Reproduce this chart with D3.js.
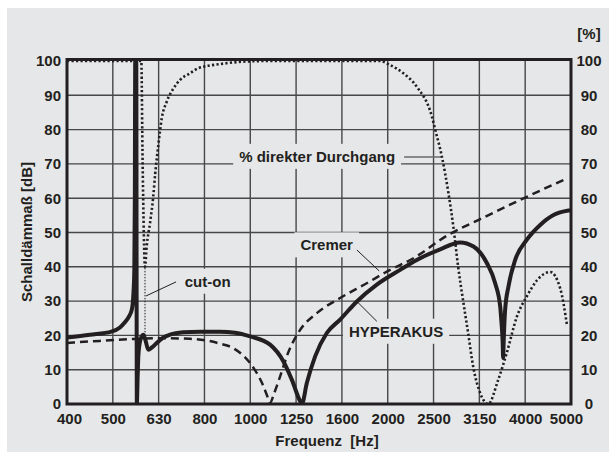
<!DOCTYPE html>
<html><head><meta charset="utf-8">
<script src="https://cdn.jsdelivr.net/npm/d3@7"></script>
<style>
html,body{margin:0;padding:0;background:#fff;}
svg{display:block;}
text{font-family:"Liberation Sans",Arial,Helvetica,sans-serif;font-weight:bold;fill:#231f20;font-size:15px;}
</style></head><body>
<svg id="c" width="609" height="452"></svg>
<script>
// ---- data ----
const xTickLabels = ["400","500","630","800","1000","1250","1600","2000","2500","3150","4000","5000"];
const yTicks = [0,10,20,30,40,50,60,70,80,90,100];

// HYPERAKUS (solid), Hz / dB
const hyperFreq = [400,449,500,522,535,546,554,558,561,562.5,563.6,566.5,568.2,570.5,572.5,576,581.8,587,593.6,602,613,628,648,671,717,781,863,931,1004,1110,1187,1238,1291,1302,1335,1392,1476,1578,1717,1898,2134,2320,2609,2885,3085,3299,3440,3528,3545,3572,3581,3590,3617,3678,3804,4034,4313,4612,4973,5036];
const hyperDB   = [19.4,20.2,21.1,22.3,23.8,25.5,27.5,31.3,39,60,100,100,0,8,14,17.5,19.6,20.2,18.5,15.8,16.5,17.8,19.3,20.2,20.9,21.1,21.1,20.8,19.7,17.3,12.4,7.1,0.8,0,6.1,13.9,20.7,24.6,29.9,34.8,39.1,42,45.1,47.1,45.9,41.1,35.2,28.4,25,18,13.4,18,27.5,34.3,42,47.9,52.2,55.1,56.4,56.5];

// Cremer (dashed), Hz / dB
const cremerFreq = [400,472,549,639,742,800,863,922,1004,1066,1093,1110,1132,1167,1215,1291,1404,1578,1804,1996,2281,2716,3190,3901,4940];
const cremerDB   = [17.8,18.4,18.9,19.2,19.0,18.6,17.6,16.3,11.9,6.1,2.5,0.3,3,8,14.9,21.6,26.5,30.9,35.2,38.6,42.5,49.3,53.9,59.5,65.8];

// % direkter Durchgang (dotted), Hz / %
const directFreq = [400,581,585,592,597,607,617,623,633,644,660,683,706,742,774,863,969,1100,1930,2029,2170,2320,2503,2545,2632,2720,2789,2856,2929,3003,3080,3190,3321,3492,3648,3837,4034,4241,4535,4768,4933];
const directPct  = [100,100,70,40,46,52.7,60.5,67,75.5,83.3,88.1,92,94.5,96.4,97.9,99.1,99.8,100,100,98.8,96.4,92.5,83.8,80,72.1,61.5,51.5,40,30,20.7,10.9,3.2,0,7,15,25.5,31.4,36,38.5,33.8,23.2];

// cut-on marker
const cutOnFreq = 592;
const cutOnRange = [20, 40];

// annotations: label, anchor (Hz, value), leader line endpoints
const annLabels = ["% direkter Durchgang","cut-on","Cremer","HYPERAKUS"];
const annFreq   = [1406, 811, 1475, 2091];
const annValue  = [70.6, 34.2, 44.8, 19.6];
const leaderFrom = [[2177,72],[692,35.6],[1717,44.9],[1898,24.1]];
const leaderTo   = [[2632,72],[595,31.5],[1920,38.8],[1717,29.9]];

// ---- chart ----
const W = 609, H = 452;
const m = {left:67, right:571, top:61, bottom:404};
const svg = d3.select("#c");
svg.append("rect").attr("x",7).attr("y",8).attr("width",W-7).attr("height",H-8).attr("fill","#e6e7e8");

const fMax = 400*Math.pow(10,1.1);
const x = d3.scaleLog().domain([400,fMax]).range([m.left,m.right]);
const y = d3.scaleLinear().domain([0,100]).range([m.bottom,m.top]);
const tickFreqs = xTickLabels.map((_, i) => 400*Math.pow(10, i/10));

// grid
const grid = svg.append("g").attr("stroke","#474747").attr("stroke-width",1.4);
grid.selectAll("line.v").data(tickFreqs.slice(1,-1)).join("line")
  .attr("x1",d=>x(d)).attr("x2",d=>x(d)).attr("y1",m.top).attr("y2",m.bottom);
grid.selectAll("line.h").data(yTicks.slice(1,-1)).join("line")
  .attr("y1",d=>y(d)).attr("y2",d=>y(d)).attr("x1",m.left).attr("x2",m.right);

// annotation boxes + text
const annG = svg.append("g");
annLabels.forEach((t,i)=>{
  const g = annG.append("g");
  const rect = g.append("rect").attr("fill","#e6e7e8");
  const tx = g.append("text").attr("x",x(annFreq[i])).attr("y",y(annValue[i]))
    .attr("text-anchor","middle").text(t);
  const bb = tx.node().getBBox();
  const px = 6, py = 4;
  rect.attr("x",bb.x-px).attr("y",bb.y-py).attr("width",bb.width+2*px).attr("height",bb.height+2*py);
});

// leader lines
const leadG = svg.append("g");
leaderFrom.forEach((p,i)=>{
  leadG.append("line")
    .attr("x1",x(p[0])).attr("y1",y(p[1]))
    .attr("x2",x(leaderTo[i][0])).attr("y2",y(leaderTo[i][1]))
    .attr("stroke", i===0 ? "#6a6a6a" : "#231f20")
    .attr("stroke-width", i===0 ? 1.6 : 1);
});

// frame (top edge sits slightly above the 100 line)
svg.append("rect").attr("x",m.left).attr("y",m.top-1.5).attr("width",m.right-m.left).attr("height",m.bottom-m.top+1.5)
  .attr("fill","none").attr("stroke","#231f20").attr("stroke-width",3);

// clip
svg.append("clipPath").attr("id","clip").append("rect")
  .attr("x",m.left).attr("y",m.top-1).attr("width",m.right-m.left).attr("height",m.bottom-m.top+1);
const plot = svg.append("g").attr("clip-path","url(#clip)");

const line = d3.line().x(d=>x(d[0])).y(d=>y(d[1])).curve(d3.curveMonotoneX);

// cut-on marker
plot.append("line").attr("x1",x(cutOnFreq)).attr("x2",x(cutOnFreq))
  .attr("y1",y(cutOnRange[0])).attr("y2",y(cutOnRange[1]))
  .attr("stroke","#231f20").attr("stroke-width",1).attr("stroke-dasharray","1.5,1.5");

plot.append("path").datum(directFreq.map((f,i)=>[f,directPct[i]])).attr("d",line)
  .attr("fill","none").attr("stroke","#231f20").attr("stroke-width",2.6).attr("stroke-dasharray","2.2,2.3");

plot.append("path").datum(cremerFreq.map((f,i)=>[f,cremerDB[i]])).attr("d",line)
  .attr("fill","none").attr("stroke","#231f20").attr("stroke-width",2.5).attr("stroke-dasharray","8,5");

plot.append("path").datum(hyperFreq.map((f,i)=>[f,hyperDB[i]])).attr("d",line)
  .attr("fill","none").attr("stroke","#231f20").attr("stroke-width",4).attr("stroke-linejoin","round");

// axes
const xAxis = svg.append("g").attr("transform",`translate(0,${m.bottom})`)
  .call(d3.axisBottom(x).tickValues(tickFreqs).tickFormat((d,i)=>xTickLabels[i]).tickSize(0).tickPadding(9));
const yAxisL = svg.append("g").attr("transform",`translate(${m.left},0)`)
  .call(d3.axisLeft(y).tickValues(yTicks).tickSize(0).tickPadding(6));
const yAxisR = svg.append("g").attr("transform",`translate(${m.right},0)`)
  .call(d3.axisRight(y).tickValues(yTicks).tickSize(0).tickPadding(6));
[xAxis,yAxisL,yAxisR].forEach(a=>{
  a.select(".domain").remove();
  a.selectAll("text").attr("fill","#231f20").attr("font-family",null).attr("font-size",null);
});
yAxisR.selectAll("text").attr("text-anchor","middle").attr("x",18);
// end labels nudged inward as in the original
const xt = xAxis.selectAll(".tick text");
xt.filter((d,i)=>i===0).attr("dx",2);
xt.filter((d,i,n)=>i===n.length-1).attr("dx",-5);

// titles
svg.append("text").attr("x",589).attr("y",39).attr("text-anchor","middle").text("[%]");
svg.append("text").attr("x",(m.left+m.right)/2+8).attr("y",446).attr("text-anchor","middle")
  .attr("xml:space","preserve").style("white-space","pre").text("Frequenz  [Hz]");
svg.append("text").attr("transform","translate(31.5,232) rotate(-90)").attr("text-anchor","middle")
  .text("Schalldämmaß [dB]");
</script>
</body></html>
